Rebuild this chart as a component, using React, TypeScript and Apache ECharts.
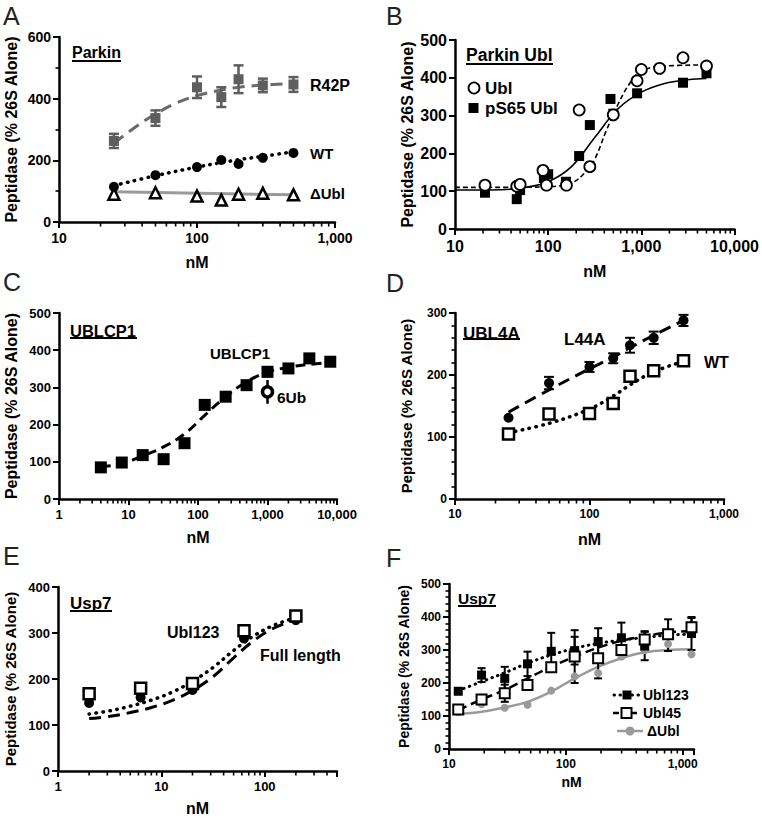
import React, { useEffect, useRef } from 'react';
import * as echarts from 'echarts';

const FONT = '"Liberation Sans", Arial, Helvetica, sans-serif';

// ---------- Panel A: Parkin ----------
const aConc = [25, 50, 100, 150, 200, 300, 500];
const aR42P = [263, 337, 437, 405, 463, 443, 446];
const aR42PErr = [23, 25, 35, 32, 45, 22, 24];
const aWT = [114, 152, 178, 201, 188, 208, 224];
const aDeltaUbl = [90, 95, 84, 71, 90, 93, 88];
const aR42PFitX = [25, 35, 50, 70, 100, 150, 200, 300, 500];
const aR42PFitY = [255, 305, 350, 385, 410, 428, 437, 444, 449];
const aWTFitX = [25, 50, 100, 200, 300, 500];
const aWTFitY = [118, 150, 178, 202, 213, 228];
const aDeltaFitX = [25, 500];
const aDeltaFitY = [98, 88];

// ---------- Panel B: Parkin Ubl ----------
const bUblConc = [21, 46, 50, 88, 96, 157, 215, 280, 500, 900, 1000, 1570, 2800, 5000];
const bUbl = [116, 113, 118, 155, 116, 116, 315, 165, 302, 392, 422, 425, 453, 431];
const bPS65Conc = [21, 46, 50, 90, 100, 155, 215, 280, 466, 500, 900, 2800, 5000];
const bPS65 = [96, 79, 103, 135, 145, 125, 193, 275, 344, 305, 359, 387, 412];
const bUblFitX = [10, 31.6, 100, 178, 250, 316, 420, 562, 750, 1000, 1778, 5000];
const bUblFitY = [110, 110, 112, 122, 150, 185, 260, 330, 385, 418, 431, 434];
const bPS65FitX = [10, 31.6, 56, 100, 178, 316, 562, 1000, 1778, 3162, 5000];
const bPS65FitY = [103, 104, 110, 125, 165, 242, 318, 362, 385, 395, 398];

// ---------- Panel C: UBLCP1 ----------
const cConc = [4, 8, 16, 32, 64, 125, 250, 500, 1000, 2000, 4000, 8000];
const cUBLCP1 = [85, 98, 118, 107, 150, 253, 275, 306, 342, 351, 378, 369];
const cUBLCP1Err = [0, 0, 0, 0, 0, 0, 0, 8, 12, 0, 8, 10];
const c6UbConc = [1000];
const c6Ub = [288];
const c6UbErr = [32];
const cFitX = [4, 8, 16, 32, 64, 125, 250, 500, 1000, 2000, 4000, 8000];
const cFitY = [87, 95, 116, 140, 175, 225, 275, 315, 341, 354, 362, 366];

// ---------- Panel D: UBL4A ----------
const dConc = [25, 50, 100, 150, 200, 300, 500];
const dL44A = [131, 187, 213, 227, 248, 260, 288];
const dL44AErr = [0, 10, 8, 8, 12, 10, 9];
const dWT = [105, 137, 138, 154, 198, 207, 223];
const dWTErr = [0, 0, 0, 0, 0, 0, 8];
const dL44AFitX = [25, 50, 100, 150, 200, 300, 500];
const dL44AFitY = [140, 176, 210, 229, 244, 264, 288];
const dWTFitX = [25, 50, 100, 150, 200, 300, 500];
const dWTFitY = [107, 122, 145, 166, 184, 205, 222];

// ---------- Panel E: Usp7 ----------
const eConc = [2, 6.3, 20, 63, 200];
const eUbl123 = [168, 180, 190, 305, 337];
const eFull = [148, 160, 176, 288, 328];
const eFitX = [2, 3.2, 5, 8, 12.6, 20, 32, 50, 80, 126, 200];
const eUbl123FitY = [124, 131, 141, 154, 171, 195, 226, 262, 295, 318, 333];
const eFullFitY = [114, 119, 127, 138, 153, 175, 206, 246, 285, 312, 329];

// ---------- Panel F: Usp7 ----------
const fConc = [12, 19, 30, 47, 75, 119, 189, 299, 473, 750, 1190];
const fUbl123 = [175, 224, 214, 258, 296, 298, 325, 337, 312, 345, 350];
const fUbl123Err = [0, 21, 35, 37, 56, 42, 41, 46, 43, 48, 50];
const fUbl45 = [120, 150, 169, 194, 248, 280, 275, 300, 332, 348, 369];
const fUbl45Err = [0, 0, 26, 0, 0, 80, 61, 0, 25, 0, 28];
const fDeltaUbl = [112, 136, 125, 134, 177, 220, 230, 280, 300, 318, 287];
const fUbl123FitY = [177, 204, 231, 260, 285, 305, 320, 330, 338, 345, 348];
const fUbl45FitY = [118, 150, 179, 214, 249, 280, 307, 328, 342, 353, 358];
const fDeltaFitY = [106, 113, 126, 143, 174, 214, 249, 275, 293, 300, 302];

const YNAME = 'Peptidase (% 26S Alone)';

const pts = (xs: number[], ys: number[]) => xs.map((x, i) => [x, ys[i]]);
const errs = (xs: number[], ys: number[], es: number[]) =>
  xs.map((x, i) => [x, ys[i] - es[i], ys[i] + es[i]]).filter((_, i) => es[i] > 0);

function minorTicks(min: number, max: number) {
  const out: number[] = [];
  for (let d = Math.pow(10, Math.floor(Math.log10(min))); d < max; d *= 10) {
    for (let k = 2; k <= 9; k++) {
      const v = k * d;
      if (v > min && v < max) out.push(v);
    }
  }
  return out;
}

const fmt = (v: number) => {
  const l = Math.log10(v);
  if (Math.abs(l - Math.round(l)) > 1e-6) return '';
  return String(Math.round(v)).replace(/\B(?=(\d{3})+(?!\d))/g, ',');
};

const axisLineStyle = { color: '#000', width: 2.5 };

function xAxis(gi: number, min: number, max: number, fs: number, nameGap: number, nameFs: number) {
  return {
    type: 'log', logBase: 10, gridIndex: gi, min, max, position: 'bottom',
    axisLine: { show: true, onZero: false, lineStyle: axisLineStyle },
    axisTick: { show: true, length: 6, lineStyle: { color: '#000', width: 2 } },
    axisLabel: { formatter: fmt, color: '#000', fontFamily: FONT, fontWeight: 'bold', fontSize: fs, margin: 9 },
    splitLine: { show: false },
    name: 'nM', nameLocation: 'middle', nameGap,
    nameTextStyle: { color: '#000', fontFamily: FONT, fontWeight: 'bold', fontSize: nameFs },
  };
}

function yAxis(gi: number, max: number, interval: number, minorSplit: number, fs: number, nameGap: number, nameFs: number) {
  return {
    type: 'value', gridIndex: gi, min: 0, max, interval,
    axisLine: { show: true, onZero: false, lineStyle: axisLineStyle },
    axisTick: { show: true, length: 6, lineStyle: { color: '#000', width: 2 } },
    minorTick: { show: minorSplit > 1, splitNumber: minorSplit, length: 3.5, lineStyle: { color: '#000', width: 1.6 } },
    axisLabel: { color: '#000', fontFamily: FONT, fontWeight: 'bold', fontSize: fs, margin: 8 },
    splitLine: { show: false },
    minorSplitLine: { show: false },
    name: YNAME, nameLocation: 'middle', nameGap, nameRotate: 90,
    nameTextStyle: { color: '#000', fontFamily: FONT, fontWeight: 'bold', fontSize: nameFs },
  };
}

// minor log ticks drawn through the axis scale
function minorTickSeries(gi: number, min: number, max: number) {
  return {
    type: 'custom', xAxisIndex: gi, yAxisIndex: gi, silent: true, z: 1, clip: false,
    data: minorTicks(min, max).map((v) => [v, 0]),
    encode: { x: 0, y: 1 },
    renderItem: (_p: any, api: any) => {
      const p = api.coord([api.value(0), 0]);
      return {
        type: 'line',
        shape: { x1: p[0], y1: p[1], x2: p[0], y2: p[1] + 4.5 },
        style: { stroke: '#000', lineWidth: 1.6 },
      };
    },
  };
}

function scatter(gi: number, data: number[][], symbol: string, size: number, fill: string, stroke: string, bw: number, z = 5) {
  return {
    type: 'scatter', xAxisIndex: gi, yAxisIndex: gi, data, symbol, symbolSize: size,
    itemStyle: { color: fill, borderColor: stroke, borderWidth: bw, opacity: 1 }, z, silent: true,
  };
}

function fit(gi: number, data: number[][], color: string, width: number, dash: any, cap = 'butt') {
  return {
    type: 'line', xAxisIndex: gi, yAxisIndex: gi, data, smooth: 0.4,
    showSymbol: false, symbol: 'none',
    lineStyle: { color, width, type: dash, cap }, z: 2, silent: true,
  };
}

function errBar(gi: number, data: number[][], color: string, width: number, capW: number) {
  return {
    type: 'custom', xAxisIndex: gi, yAxisIndex: gi, data, encode: { x: 0, y: [1, 2] }, z: 3, silent: true,
    renderItem: (_p: any, api: any) => {
      const x = api.value(0);
      const lo = api.coord([x, api.value(1)]);
      const hi = api.coord([x, api.value(2)]);
      const style = { stroke: color, lineWidth: width, fill: 'none' };
      return {
        type: 'group',
        children: [
          { type: 'line', shape: { x1: lo[0], y1: lo[1], x2: hi[0], y2: hi[1] }, style },
          { type: 'line', shape: { x1: hi[0] - capW, y1: hi[1], x2: hi[0] + capW, y2: hi[1] }, style },
          { type: 'line', shape: { x1: lo[0] - capW, y1: lo[1], x2: lo[0] + capW, y2: lo[1] }, style },
        ],
      };
    },
  };
}

const T = (x: number, y: number, text: string, size: number, weight = 'bold', fill = '#000') => ({
  type: 'text', x, y, silent: true, z: 10,
  style: { text, fill, fontSize: size, fontWeight: weight, fontFamily: FONT, textAlign: 'left', textVerticalAlign: 'middle' },
});
const U = (x1: number, x2: number, y: number, w = 2) => ({
  type: 'line', silent: true, z: 10, shape: { x1, y1: y, x2, y2: y }, style: { stroke: '#000', lineWidth: w },
});

function buildOption() {
  const grid = [
    { left: 59, top: 37, width: 276, height: 185 },
    { left: 455, top: 40, width: 280, height: 189 },
    { left: 59, top: 313, width: 278, height: 186 },
    { left: 455, top: 313, width: 269, height: 186 },
    { left: 58, top: 587, width: 279, height: 184 },
    { left: 449, top: 584, width: 245, height: 165 },
  ];
  const xr = [[10, 1000], [10, 10000], [1, 10000], [10, 1000], [1, 500], [10, 1250]];

  const xAxisArr = [
    xAxis(0, 10, 1000, 14, 32, 16),
    xAxis(1, 10, 10000, 16, 34, 16),
    xAxis(2, 1, 10000, 13, 30, 16),
    xAxis(3, 10, 1000, 12, 32, 16),
    xAxis(4, 1, 500, 13, 29, 16),
    xAxis(5, 10, 1250, 12, 26, 14),
  ];
  const yAxisArr = [
    yAxis(0, 600, 200, 2, 14, 40, 16),
    yAxis(1, 500, 100, 1, 16, 40, 16),
    yAxis(2, 500, 100, 1, 13, 40, 16),
    yAxis(3, 300, 100, 5, 12, 41, 15),
    yAxis(4, 400, 100, 1, 13, 40, 15),
    yAxis(5, 500, 100, 5, 12, 38, 14),
  ];

  const gray = '#5e5e5e';
  const lightGray = '#9a9a9a';

  const series: any[] = [
    ...xr.map((r, gi) => minorTickSeries(gi, r[0], r[1])),
    // A
    fit(0, pts(aR42PFitX, aR42PFitY), '#6a6a6a', 3, [12, 7]),
    fit(0, pts(aWTFitX, aWTFitY), '#000', 3.5, [0.5, 6.5], 'round'),
    fit(0, pts(aDeltaFitX, aDeltaFitY), lightGray, 3, 'solid'),
    errBar(0, errs(aConc, aR42P, aR42PErr), gray, 2.5, 5),
    scatter(0, pts(aConc, aR42P), 'rect', 10, gray, gray, 0),
    scatter(0, pts(aConc, aWT), 'circle', 10, '#000', '#000', 0),
    scatter(0, pts(aConc, aDeltaUbl), 'triangle', 11, '#fff', '#000', 2.5),
    // B
    fit(1, pts(bUblFitX, bUblFitY), '#000', 1.6, [5, 3]),
    fit(1, pts(bPS65FitX, bPS65FitY), '#000', 1.6, 'solid'),
    scatter(1, pts(bPS65Conc, bPS65), 'rect', 10, '#000', '#000', 0),
    scatter(1, pts(bUblConc, bUbl), 'circle', 11, '#fff', '#000', 1.8, 6),
    // C
    fit(2, pts(cFitX, cFitY), '#000', 3, [10, 6]),
    errBar(2, errs(cConc, cUBLCP1, cUBLCP1Err), '#000', 2.5, 5),
    errBar(2, errs(c6UbConc, c6Ub, c6UbErr), '#000', 2.5, 0),
    scatter(2, pts(cConc, cUBLCP1), 'rect', 12, '#000', '#000', 0),
    scatter(2, pts(c6UbConc, c6Ub), 'circle', 10, '#fff', '#000', 3.5, 6),
    // D
    fit(3, pts(dL44AFitX, dL44AFitY), '#000', 3, [12, 7]),
    fit(3, pts(dWTFitX, dWTFitY), '#000', 3.5, [0.5, 6.5], 'round'),
    errBar(3, errs(dConc, dL44A, dL44AErr), '#000', 2, 5),
    errBar(3, errs(dConc, dWT, dWTErr), '#000', 2, 5),
    scatter(3, pts(dConc, dL44A), 'circle', 10, '#000', '#000', 0),
    scatter(3, pts(dConc, dWT), 'rect', 11, '#fff', '#000', 2.5, 6),
    // E
    fit(4, pts(eFitX, eUbl123FitY), '#000', 3.5, [0.5, 6.5], 'round'),
    fit(4, pts(eFitX, eFullFitY), '#000', 3, [12, 7]),
    scatter(4, pts(eConc, eFull), 'circle', 10, '#000', '#000', 0),
    scatter(4, pts(eConc, eUbl123), 'rect', 11, '#fff', '#000', 2.5, 6),
    // F
    fit(5, pts(fConc, fDeltaFitY), lightGray, 2.5, 'solid'),
    fit(5, pts(fConc, fUbl45FitY), '#000', 2.5, [9, 5]),
    fit(5, pts(fConc, fUbl123FitY), '#000', 3, [0.5, 5.5], 'round'),
    errBar(5, errs(fConc, fUbl45, fUbl45Err), '#000', 2, 4),
    errBar(5, errs(fConc, fUbl123, fUbl123Err), '#000', 2, 4),
    scatter(5, pts(fConc, fDeltaUbl), 'circle', 8, lightGray, lightGray, 0),
    scatter(5, pts(fConc, fUbl123), 'rect', 9, '#000', '#000', 0),
    scatter(5, pts(fConc, fUbl45), 'rect', 10, '#fff', '#000', 2, 6),
  ];

  const elements: any[] = [
    // panel letters
    T(3, 16, 'A', 25, 'normal', '#222'),
    T(386, 16, 'B', 25, 'normal', '#222'),
    T(3, 282, 'C', 25, 'normal', '#222'),
    T(386, 283, 'D', 25, 'normal', '#222'),
    T(3, 556, 'E', 25, 'normal', '#222'),
    T(386, 558, 'F', 25, 'normal', '#222'),
    // A
    T(72, 52, 'Parkin', 16), U(72, 121, 61),
    T(310, 85, 'R42P', 16),
    T(310, 153, 'WT', 15),
    T(310, 193, '\u0394Ubl', 15),
    // B
    T(466, 55, 'Parkin Ubl', 17.5), U(466, 553, 64),
    { type: 'circle', silent: true, z: 10, shape: { cx: 474, cy: 88, r: 5.5 }, style: { fill: '#fff', stroke: '#000', lineWidth: 1.8 } },
    T(485, 88, 'Ubl', 17),
    { type: 'rect', silent: true, z: 10, shape: { x: 468.5, y: 103, width: 10, height: 10 }, style: { fill: '#000' } },
    T(485, 108, 'pS65 Ubl', 17),
    // C
    T(70, 331, 'UBLCP1', 16.5), U(70, 137, 338),
    T(210, 353, 'UBLCP1', 15),
    T(277, 397, '6Ub', 15.5),
    // D
    T(463, 333, 'UBL4A', 17), U(463, 520, 339),
    T(564, 339, 'L44A', 17),
    T(704, 362, 'WT', 16),
    // E
    T(70, 603, 'Usp7', 17), U(70, 112, 611),
    T(167, 632, 'Ubl123', 16),
    T(260, 655, 'Full length', 16),
    // F
    T(458, 598, 'Usp7', 15.5), U(458, 496, 606),
    { type: 'line', silent: true, z: 10, shape: { x1: 614, y1: 695, x2: 640, y2: 695 }, style: { stroke: '#000', lineWidth: 3, lineDash: [0.5, 5.5], lineCap: 'round' } },
    { type: 'rect', silent: true, z: 10, shape: { x: 622.5, y: 690.5, width: 9, height: 9 }, style: { fill: '#000' } },
    T(643, 695, 'Ubl123', 14),
    { type: 'line', silent: true, z: 10, shape: { x1: 613, y1: 713, x2: 640, y2: 713 }, style: { stroke: '#000', lineWidth: 2.5, lineDash: [6, 3] } },
    { type: 'rect', silent: true, z: 11, shape: { x: 621.5, y: 708, width: 10, height: 10 }, style: { fill: '#fff', stroke: '#000', lineWidth: 2 } },
    T(643, 713, 'Ubl45', 14),
    { type: 'line', silent: true, z: 10, shape: { x1: 617, y1: 731, x2: 643, y2: 731 }, style: { stroke: lightGray, lineWidth: 2.5 } },
    { type: 'circle', silent: true, z: 11, shape: { cx: 630, cy: 731, r: 4.5 }, style: { fill: lightGray } },
    T(647, 731, '\u0394Ubl', 14),
  ];

  return {
    animation: false,
    backgroundColor: '#fff',
    grid,
    xAxis: xAxisArr,
    yAxis: yAxisArr,
    series,
    graphic: { elements },
  };
}

export default function App() {
  const ref = useRef<HTMLDivElement>(null);
  useEffect(() => {
    if (!ref.current) return;
    const chart = echarts.init(ref.current, null, { renderer: 'svg' });
    chart.setOption(buildOption() as any);
    return () => chart.dispose();
  }, []);
  return (
    <div
      ref={ref}
      style={{ position: 'absolute', left: 0, top: 0, width: 762, height: 819, background: '#fff' }}
    />
  );
}
